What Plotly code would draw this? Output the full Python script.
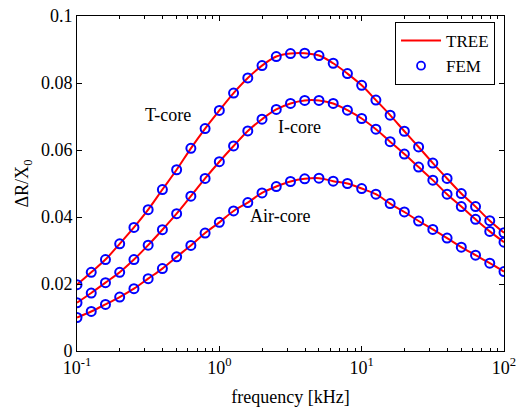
import numpy as np
import plotly.graph_objects as go

# frequency grid [kHz], 10 points per decade from 0.1 to 100
freq = [0.1, 0.1259, 0.1585, 0.1995, 0.2512, 0.3162, 0.3981, 0.5012, 0.6310, 0.7943,
        1.0, 1.259, 1.585, 1.995, 2.512, 3.162, 3.981, 5.012, 6.310, 7.943,
        10.0, 12.59, 15.85, 19.95, 25.12, 31.62, 39.81, 50.12, 63.10, 79.43, 100.0]

# normalized resistance change dR/X0 for each coil core
t_core = [0.0198, 0.0235, 0.0273, 0.0320, 0.0369, 0.0422, 0.0482, 0.0541, 0.0605, 0.0664,
          0.0718, 0.0770, 0.0815, 0.0852, 0.0879, 0.0888, 0.0889, 0.0882, 0.0859, 0.0828,
          0.0793, 0.0749, 0.0704, 0.0656, 0.0609, 0.0561, 0.0515, 0.0470, 0.0431, 0.0389, 0.0353]
i_core = [0.0144, 0.0173, 0.0204, 0.0235, 0.0273, 0.0316, 0.0362, 0.0410, 0.0462, 0.0515,
          0.0565, 0.0612, 0.0657, 0.0692, 0.0721, 0.0739, 0.0748, 0.0748, 0.0739, 0.0719,
          0.0694, 0.0662, 0.0625, 0.0588, 0.0549, 0.0510, 0.0468, 0.0431, 0.0393, 0.0357, 0.0325]
air_core = [0.0100, 0.0118, 0.0139, 0.0161, 0.0186, 0.0216, 0.0246, 0.0281, 0.0315, 0.0352,
            0.0384, 0.0418, 0.0443, 0.0472, 0.0491, 0.0506, 0.0514, 0.0516, 0.0507, 0.0500,
            0.0485, 0.0468, 0.0440, 0.0415, 0.0388, 0.0363, 0.0337, 0.0310, 0.0286, 0.0262, 0.0237]

curves = [("T-core", t_core), ("I-core", i_core), ("Air-core", air_core)]

# curve labels: (text, x [kHz], y)
labels = [("T-core", 0.433, 0.0704), ("I-core", 3.64, 0.0669), ("Air-core", 2.69, 0.0402)]

FONT = "Liberation Serif"
FS = 18
RED = "#ff0000"
BLUE = "#0000ff"

fig = go.Figure()

# TREE model: solid red curves
for name, vals in curves:
    fig.add_trace(go.Scatter(
        x=freq, y=vals, mode="lines", name=name,
        line=dict(color=RED, width=2, shape="spline"),
        showlegend=False,
    ))
# FEM results: open blue circles
for name, vals in curves:
    fig.add_trace(go.Scatter(
        x=freq, y=vals, mode="markers", name=name,
        marker=dict(symbol="circle-open", size=9, color=BLUE,
                    line=dict(color=BLUE, width=2)),
        showlegend=False,
    ))

# legend entries
fig.add_trace(go.Scatter(x=[None], y=[None], mode="lines", name="TREE",
                         line=dict(color=RED, width=2)))
fig.add_trace(go.Scatter(x=[None], y=[None], mode="markers", name="FEM",
                         marker=dict(symbol="circle-open", size=8, color=BLUE,
                                     line=dict(color=BLUE, width=1.8))))

for text, x, y in labels:
    fig.add_annotation(x=np.log10(x), y=y, text=text, showarrow=False,
                       font=dict(family=FONT, size=FS, color="black"))

minor_vals = [m * 10.0 ** d for d in range(-1, 2) for m in range(2, 10)]

fig.update_xaxes(
    type="log", range=[-1, 2], automargin=False, ticklabeloverflow="allow",
    tickvals=[0.1, 1, 10, 100],
    ticktext=["10<sup>-1</sup>", "10<sup>0</sup>", "10<sup>1</sup>", "10<sup>2</sup>"],
    ticks="inside", ticklen=5, tickcolor="black",
    minor=dict(tickvals=minor_vals, ticks="inside", ticklen=3, tickcolor="black", showgrid=False),
    showline=True, linecolor="black", linewidth=1, mirror="ticks",
    showgrid=False, zeroline=False,
    title=dict(text="frequency [kHz]", font=dict(family=FONT, size=FS, color="black"), standoff=13),
    tickfont=dict(family=FONT, size=FS, color="black"),
)
fig.update_yaxes(
    range=[0, 0.1], automargin=False, ticklabeloverflow="allow",
    tickvals=[0, 0.02, 0.04, 0.06, 0.08, 0.1],
    ticktext=["0", "0.02", "0.04", "0.06", "0.08", "0.1"],
    ticks="inside", ticklen=5, tickcolor="black",
    showline=True, linecolor="black", linewidth=1, mirror="ticks",
    showgrid=False, zeroline=False,
    title=dict(text="ΔR/X<sub>0</sub>", font=dict(family=FONT, size=FS, color="black"), standoff=7),
    tickfont=dict(family=FONT, size=FS, color="black"),
)

fig.update_layout(
    width=516, height=409,
    margin=dict(l=77, r=12, t=16, b=58),
    paper_bgcolor="white", plot_bgcolor="white",
    font=dict(family=FONT, size=FS, color="black"),
    legend=dict(x=0.979, y=0.982, xanchor="right", yanchor="top",
                bgcolor="white", bordercolor="black", borderwidth=1,
                font=dict(family=FONT, size=17, color="black"),
                tracegroupgap=0, itemwidth=40),
)

fig.write_html("out.html")
